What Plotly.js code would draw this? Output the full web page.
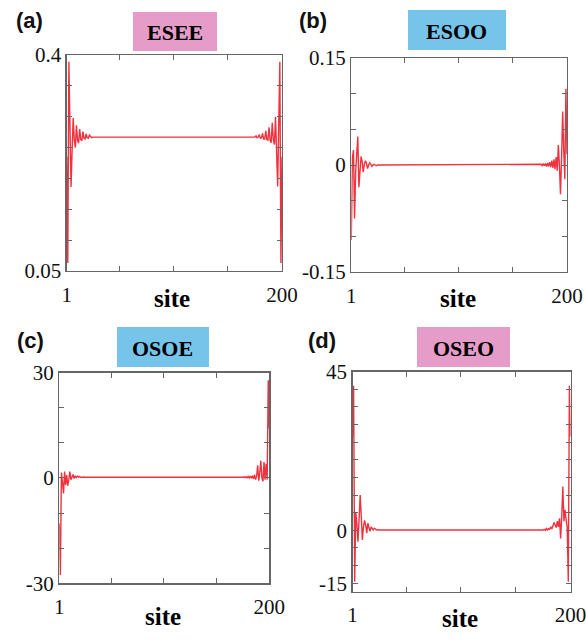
<!DOCTYPE html>
<html>
<head>
<meta charset="utf-8">
<script src="https://cdn.plot.ly/plotly-3.0.1.min.js"></script>
<style>html,body{margin:0;padding:0;background:#fff;}#chart{width:586px;height:640px;}</style>
</head>
<body>
<div id="chart"></div>
<script>
// ---------- data ----------
const sitesLeft = [1,2,3,4,5,6,7,8,9,10,11,12,13,14,15,16,17,18,19,20,21,22,23,24,25];
const sitesRight = [175,176,177,178,179,180,181,182,183,184,185,186,187,188,189,190,191,192,193,194,195,196,197,198,199,200];

// Panel (a) ESEE
const eseeLeft = [0.235,0.063,0.389,0.290,0.186,0.245,0.298,0.262,0.250,0.286,0.262,0.257,0.280,0.263,0.261,0.276,0.265,0.264,0.272,0.266,0.265,0.270,0.267,0.266,0.267];
const eseeRight = [0.267,0.269,0.266,0.267,0.271,0.265,0.266,0.273,0.264,0.264,0.277,0.263,0.262,0.283,0.262,0.258,0.290,0.262,0.255,0.300,0.250,0.187,0.290,0.389,0.063,0.235];

// Panel (b) ESOO
const esooLeft = [-0.105,0.010,0.021,-0.075,-0.010,0.028,0.040,-0.031,-0.005,0.012,0.005,-0.010,0.001,0.006,0.002,-0.005,0.000,0.003,0.001,-0.002,0.000,0.001,0.000,-0.001,0.000];
const esooRight = [0.000,0.001,-0.001,0.002,-0.001,0.002,-0.002,0.003,-0.002,0.004,-0.003,0.006,-0.004,0.008,-0.006,0.011,-0.008,0.028,0.000,-0.041,0.010,0.075,0.020,-0.020,0.107,0.015];

// Panel (c) OSOE
const osoeLeft = [-13.0,-27.6,1.5,-1.0,-4.4,1.8,-2.0,0.8,-2.2,-0.5,1.8,-0.5,0.3,1.0,-0.2,0.6,0.1,0.5,0.2,0.4,0.2,0.3,0.2,0.25,0.2];
const osoeRight = [0.2,0.3,0.1,0.35,0.05,0.4,0.0,0.5,-0.1,0.6,-0.3,0.9,-0.5,0.5,3.6,-0.8,1.5,4.9,0.0,-1.0,4.5,-0.5,4.0,-0.5,27.8,14.0];

// Panel (d) OSEO
const oseoLeft = [26.6,41.0,-14.6,5.0,2.0,-3.2,3.0,10.0,4.0,-2.7,1.0,2.8,1.5,-0.8,2.0,0.8,-0.3,1.0,0.5,0.1,0.6,0.3,0.1,0.2,0.1];
const oseoRight = [0.1,0.3,0.0,0.5,0.1,0.5,0.3,1.0,0.4,1.2,2.2,1.5,0.8,2.6,1.0,3.4,-2.3,4.0,12.4,2.6,5.8,3.0,0.8,-14.6,41.0,26.6];

// tick labels
const xTickVals = [1,50,100,150,200];
const xTickText = ['1','','','','200'];
const yTicksA = [0.05,0.1,0.15,0.2,0.25,0.3,0.35,0.4];
const yTextA = ['0.05','','','','','','','0.4'];
const yTicksB = [-0.15,-0.1,-0.05,0,0.05,0.1,0.15];
const yTextB = ['-0.15','','','0','','','0.15'];
const yTicksC = [-30,-20,-10,0,10,20,30];
const yTextC = ['-30','','','0','','','30'];
const yTicksD = [-15,-10,-5,0,5,10,15,20,25,30,35,40,45];
const yTextD = ['-15','','','0','','','','','','','','','45'];

const panelLabels = ['(a)','(b)','(c)','(d)'];
const panelTitles = ['ESEE','ESOO','OSOE','OSEO'];
const xTitle = 'site';

// ---------- layout helpers ----------
const W = 586, H = 640;
const px = v => v / W;
const py = v => 1 - v / H;

const lineColor = '#f0323e';
const frameColor = '#666666';
const serif = 'Liberation Serif';

function trace(left, right, xa, ya) {
  return {
    x: sitesLeft.concat(sitesRight),
    y: left.concat(right),
    type: 'scatter', mode: 'lines',
    line: {color: lineColor, width: 1.4},
    xaxis: xa, yaxis: ya, hoverinfo: 'skip', showlegend: false
  };
}

function xAxis(dom, anchor) {
  return {
    domain: dom, anchor: anchor, range: [1, 200],
    tickmode: 'array', tickvals: xTickVals, ticktext: xTickText,
    ticks: 'inside', ticklen: 5, tickcolor: frameColor, tickwidth: 1,
    showline: true, linecolor: frameColor, linewidth: 1.3, mirror: 'ticks',
    showgrid: false, zeroline: false, ticklabelstandoff: 4,
    ticklabeloverflow: 'allow',
    tickfont: {family: serif, size: 21, color: '#111'}
  };
}
function yAxis(dom, anchor, range, tv, tt) {
  return {
    domain: dom, anchor: anchor, range: range,
    tickmode: 'array', tickvals: tv, ticktext: tt,
    ticks: 'inside', ticklen: 5, tickcolor: frameColor, tickwidth: 1,
    showline: true, linecolor: frameColor, linewidth: 1.3, mirror: 'ticks',
    showgrid: false, zeroline: false, ticklabeloverflow: 'allow',
    tickfont: {family: serif, size: 21, color: '#111'}
  };
}

const data = [
  trace(eseeLeft, eseeRight, 'x', 'y'),
  trace(esooLeft, esooRight, 'x2', 'y2'),
  trace(osoeLeft, osoeRight, 'x3', 'y3'),
  trace(oseoLeft, oseoRight, 'x4', 'y4')
];

// panel boxes in pixels: [left, top, right, bottom]
const boxes = [[66.7,55,282,271],[351.3,58,567,272],[59.3,372.5,269.3,583.3],[352.5,371.7,570.5,591.7]];
const dx = b => [px(b[0]), px(b[2])];
const dy = b => [py(b[3]), py(b[1])];

const layout = {
  width: W, height: H,
  margin: {l: 0, r: 0, t: 0, b: 0},
  paper_bgcolor: '#fff', plot_bgcolor: '#fff',
  showlegend: false,
  xaxis: xAxis(dx(boxes[0]), 'y'),
  yaxis: yAxis(dy(boxes[0]), 'x', [0.05, 0.4], yTicksA, yTextA),
  xaxis2: xAxis(dx(boxes[1]), 'y2'),
  yaxis2: yAxis(dy(boxes[1]), 'x2', [-0.15, 0.15], yTicksB, yTextB),
  xaxis3: xAxis(dx(boxes[2]), 'y3'),
  yaxis3: yAxis(dy(boxes[2]), 'x3', [-30, 30], yTicksC, yTextC),
  xaxis4: xAxis(dx(boxes[3]), 'y4'),
  yaxis4: yAxis(dy(boxes[3]), 'x4', [-17.4, 45], yTicksD, yTextD),
  shapes: [],
  annotations: []
};

// title boxes [left, top, right, bottom, colour]
const titleBoxes = [
  [133, 12, 217, 51, '#e59cc8'],
  [408, 10, 506, 50, '#76c4ea'],
  [117, 327, 209, 367, '#76c4ea'],
  [417, 327, 510, 367, '#e59cc8']
];
titleBoxes.forEach((b, i) => {
  layout.shapes.push({type: 'rect', xref: 'paper', yref: 'paper',
    x0: px(b[0]), x1: px(b[2]), y0: py(b[3]), y1: py(b[1]),
    fillcolor: b[4], line: {width: 0}, layer: 'above'});
  layout.annotations.push({xref: 'paper', yref: 'paper',
    x: px((b[0] + b[2]) / 2), y: py((b[1] + b[3]) / 2 + 1),
    xanchor: 'center', yanchor: 'middle', showarrow: false,
    text: '<b>' + panelTitles[i] + '</b>',
    font: {family: serif, size: 22, color: '#000'}});
});

// panel letters
const letterPos = [[29, 20], [313, 20], [30, 340], [322, 340]];
letterPos.forEach((p, i) => {
  layout.annotations.push({xref: 'paper', yref: 'paper', x: px(p[0]), y: py(p[1]),
    xanchor: 'center', yanchor: 'middle', showarrow: false,
    text: '<b>' + panelLabels[i] + '</b>',
    font: {family: 'Liberation Sans', size: 22, color: '#111'}});
});

// x titles "site"
const sitePos = [[172, 298], [458, 298], [163, 616], [460, 618]];
sitePos.forEach(p => {
  layout.annotations.push({xref: 'paper', yref: 'paper', x: px(p[0]), y: py(p[1]),
    xanchor: 'center', yanchor: 'middle', showarrow: false,
    text: '<b>' + xTitle + '</b>',
    font: {family: serif, size: 25, color: '#000'}});
});

Plotly.newPlot('chart', data, layout, {staticPlot: true, displayModeBar: false});
</script>
</body>
</html>
